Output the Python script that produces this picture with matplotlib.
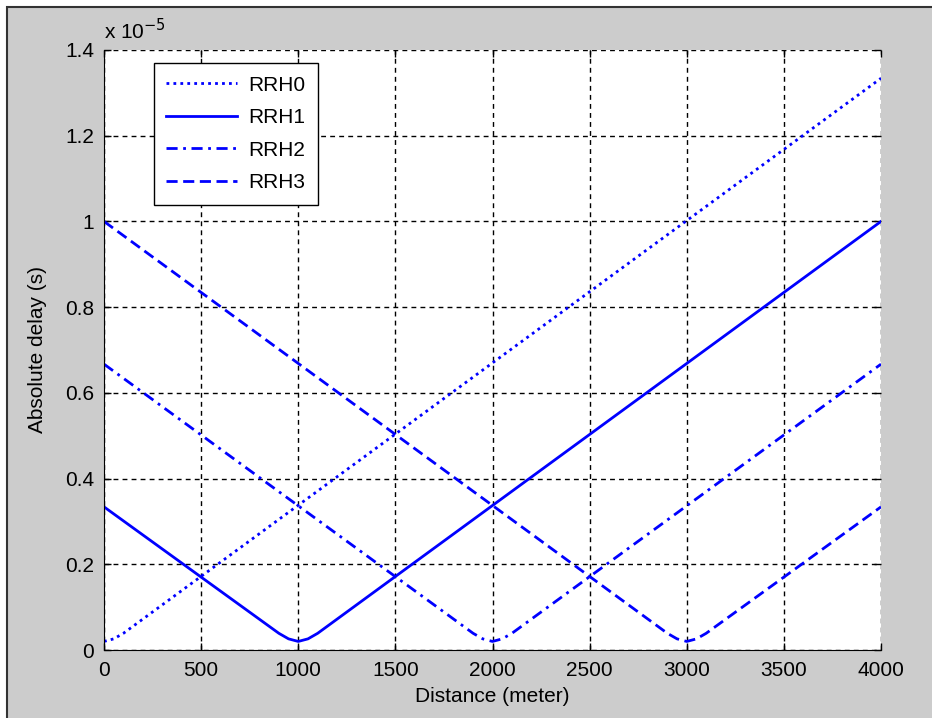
import matplotlib
matplotlib.use("Agg")
import matplotlib.pyplot as plt
from matplotlib.patches import Rectangle

plt.rcParams["font.family"] = ["Liberation Sans", "DejaVu Sans"]
plt.rcParams["font.size"] = 15

# delay values in units of 1e-5 s
rrh0_x = [0, 50, 100, 4000]
rrh0_y = [0.020, 0.026, 0.039, 1.334]

rrh1_x = [0, 900, 950, 1000, 1050, 1100, 4000]
rrh1_y = [0.334, 0.039, 0.026, 0.020, 0.026, 0.039, 1.000]

rrh2_x = [0, 1900, 1950, 2000, 2050, 2100, 4000]
rrh2_y = [0.667, 0.039, 0.026, 0.020, 0.026, 0.039, 0.667]

rrh3_x = [0, 2900, 2950, 3000, 3050, 3100, 4000]
rrh3_y = [1.000, 0.039, 0.026, 0.020, 0.026, 0.039, 0.334]

labels = ["RRH0", "RRH1", "RRH2", "RRH3"]

fig = plt.figure(figsize=(9.32, 7.18), dpi=100, facecolor="white")

# gray window area with dark edge at top and left
fig.add_artist(Rectangle((7 / 932, -0.01), 1.0, 1.01 - 7 / 718, transform=fig.transFigure,
                         facecolor="#cccccc", edgecolor="#333333", lw=1.5, zorder=0))

ax = fig.add_axes([0.1116, 0.0947, 0.8337, 0.8357])

lw = 2.0
ax.plot(rrh0_x, rrh0_y, color="blue", lw=lw, linestyle=(0, (1, 1.5)), label=labels[0])
ax.plot(rrh1_x, rrh1_y, color="blue", lw=lw, linestyle="-", label=labels[1])
ax.plot(rrh2_x, rrh2_y, color="blue", lw=lw, linestyle=(0, (4, 2, 1, 2)), label=labels[2])
ax.plot(rrh3_x, rrh3_y, color="blue", lw=lw, linestyle=(0, (4, 2)), label=labels[3])

ax.set_xlim(0, 4000)
ax.set_ylim(0, 1.4)
ax.set_xticks(range(0, 4001, 500))
ax.set_yticks([0, 0.2, 0.4, 0.6, 0.8, 1, 1.2, 1.4])
ax.set_yticklabels(["0", "0.2", "0.4", "0.6", "0.8", "1", "1.2", "1.4"])
ax.grid(True, color="black", linestyle=(0, (3.5, 3)), linewidth=1.0)
ax.tick_params(direction="in", top=True, right=True, length=5, width=1, colors="black")
ax.tick_params(axis="x", pad=8)
ax.tick_params(axis="y", pad=7)
ax.spines["top"].set_visible(False)
ax.spines["right"].set_visible(False)

ax.set_xlabel("Distance (meter)", labelpad=5)
ax.set_ylabel("Absolute delay (s)", labelpad=13)
ax.text(0.0, 1.012, r"x 10$^{-5}$", transform=ax.transAxes, ha="left", va="bottom")

leg = ax.legend(loc="upper left", bbox_to_anchor=(0.064, 0.978), borderaxespad=0,
                fancybox=False, edgecolor="black", framealpha=1,
                handlelength=3.4, handletextpad=0.55, labelspacing=0.65, borderpad=0.6)
leg.get_frame().set_linewidth(1.0)

fig.savefig("out.png", dpi=100, facecolor=fig.get_facecolor())
